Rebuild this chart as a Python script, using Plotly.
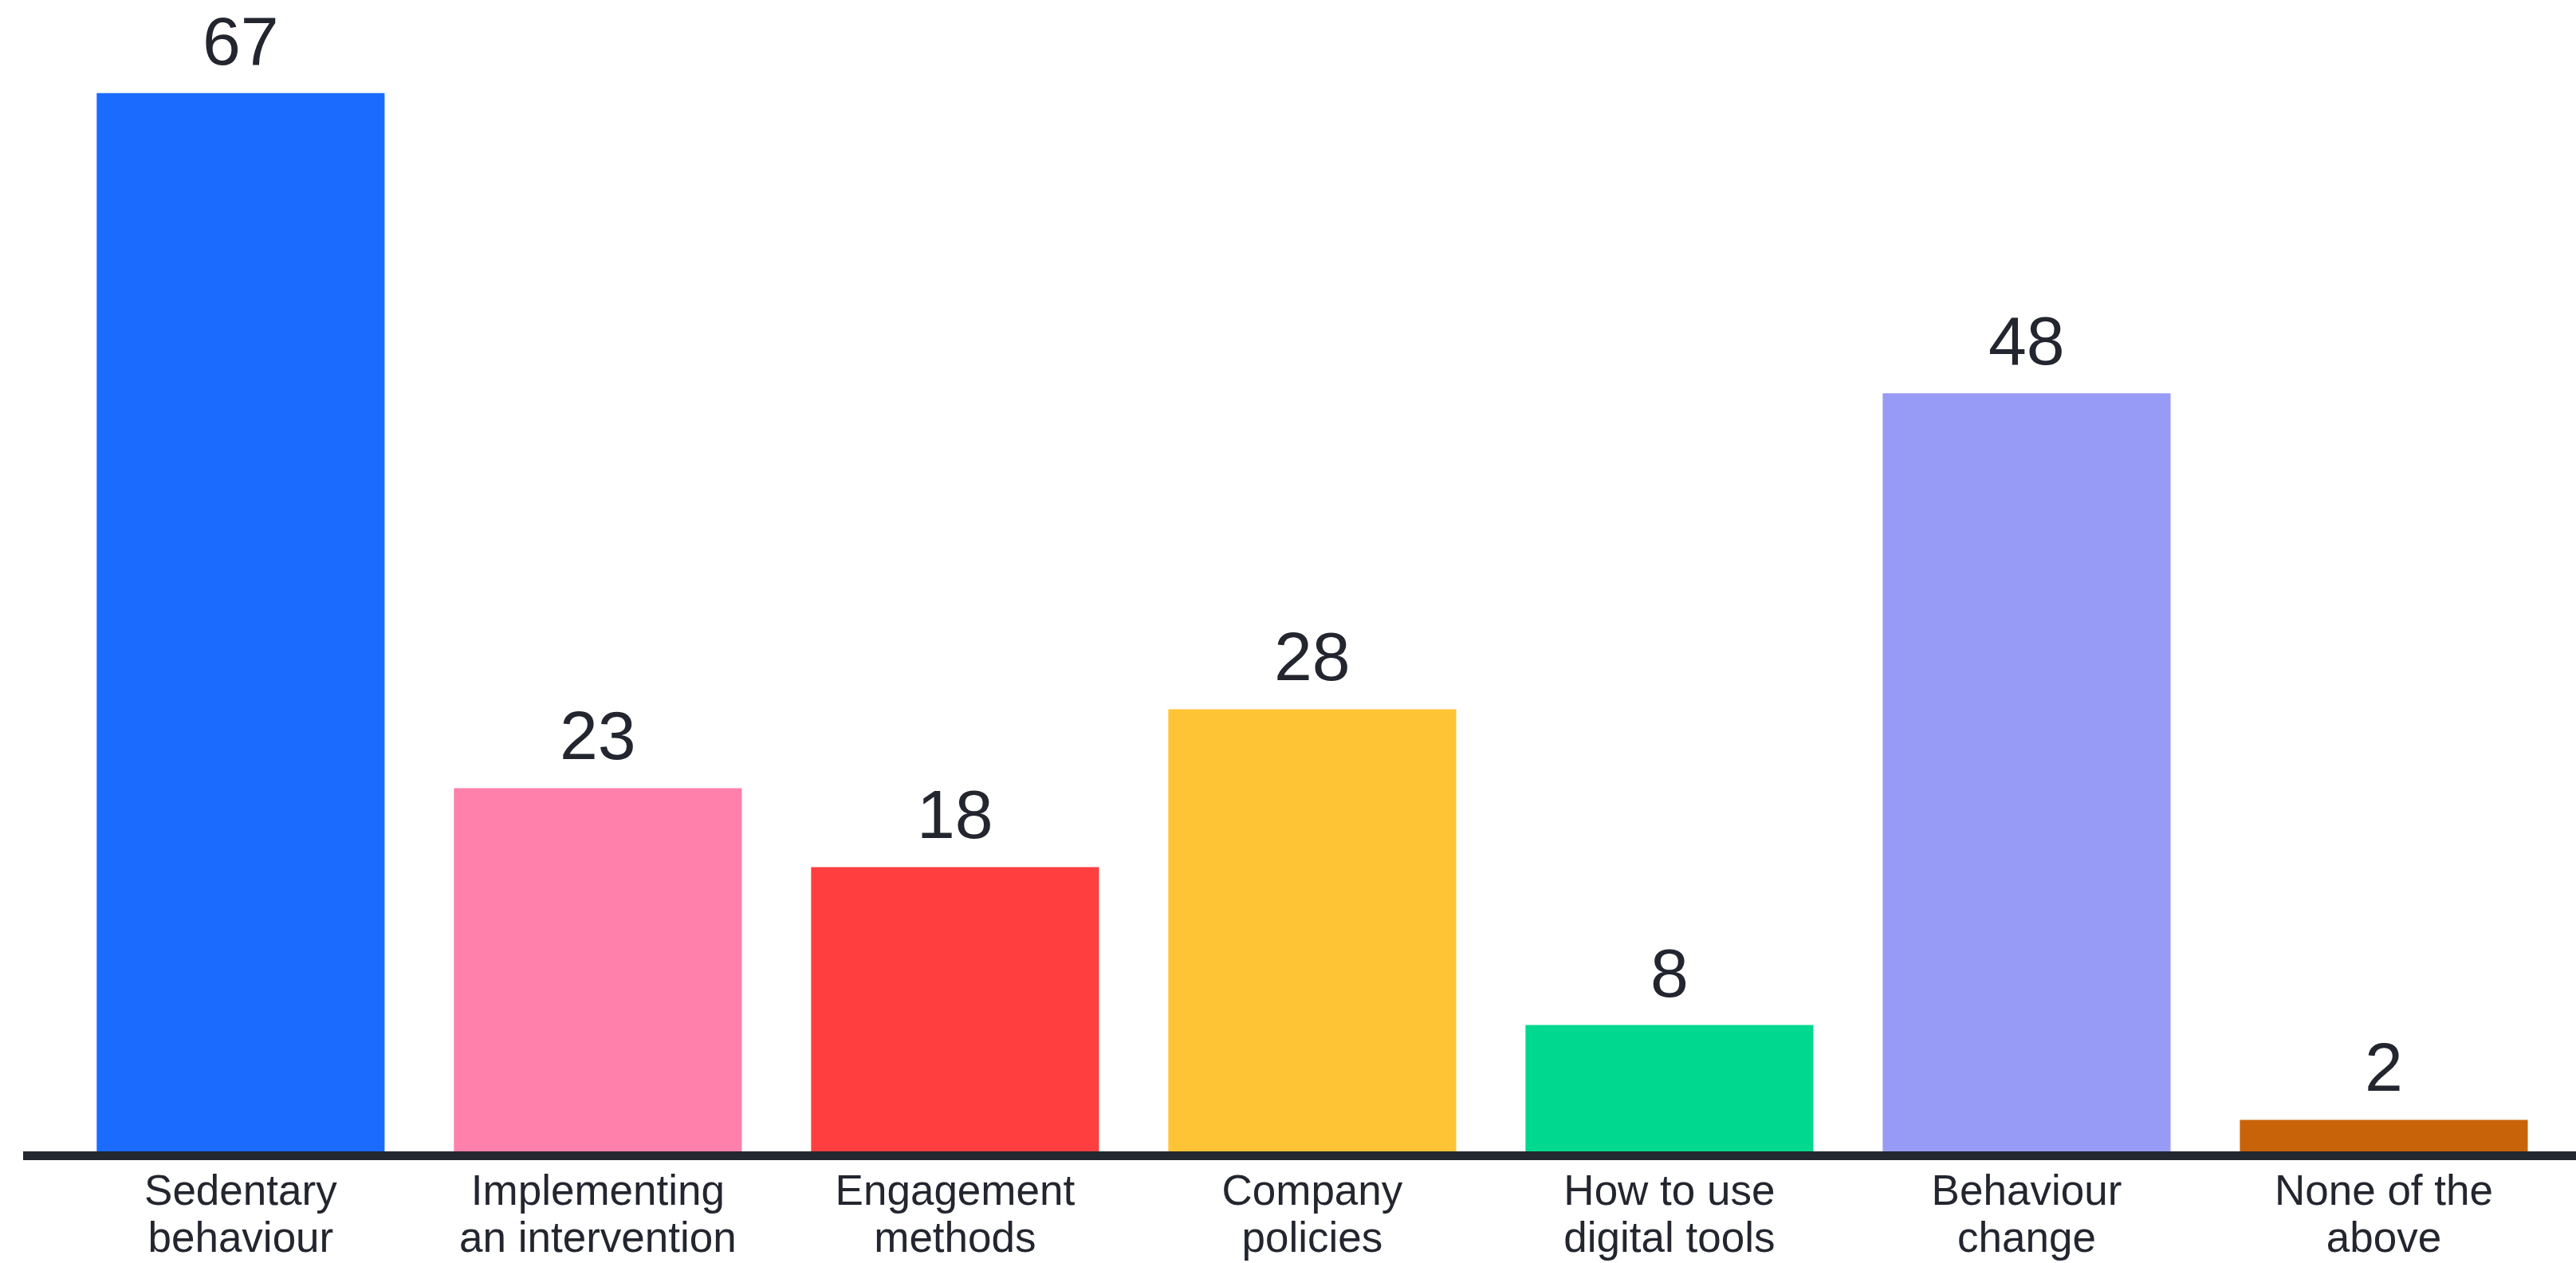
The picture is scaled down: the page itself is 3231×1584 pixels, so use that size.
import plotly.graph_objects as go

categories = ["Sedentary<br>behaviour", "Implementing<br>an intervention", "Engagement<br>methods",
              "Company<br>policies", "How to use<br>digital tools", "Behaviour<br>change", "None of the<br>above"]
values = [67, 23, 18, 28, 8, 48, 2]
colors = ["#1B6BFF", "#FF80AB", "#FF3F3F", "#FFC436", "#00D88F", "#979BF5", "#C8630A"]

TEXT = "#23262F"
positions = list(range(len(categories)))
line1 = [c.split("<br>")[0] for c in categories]
line2 = [c.split("<br>")[1] for c in categories]

fig = go.Figure()
fig.add_trace(go.Bar(
    x=positions, y=values,
    marker=dict(color=colors, line=dict(width=0)),
    width=0.806,
    hoverinfo="skip",
))
# invisible helper trace so the second label row axis is drawn
fig.add_trace(go.Scatter(x=positions, y=values, xaxis="x2", mode="none", hoverinfo="skip", showlegend=False))

for i, v in enumerate(values):
    fig.add_annotation(x=i, y=v, text=str(v), showarrow=False, yanchor="bottom",
                       yshift=16, font=dict(family="Liberation Sans", size=86, color=TEXT))

# baseline rule just under the bars (11 px thick, from plot left edge to right edge)
PLOT_H = 1584 - 140
fig.add_shape(type="line", xref="paper", yref="paper", x0=0, x1=1,
              y0=-5.5 / PLOT_H, y1=-5.5 / PLOT_H,
              line=dict(color="#23272F", width=11), layer="above")

XR = [-0.609, 6.538]
tickfont = dict(family="Liberation Sans", size=53, color=TEXT)
fig.update_layout(
    width=3231, height=1584,
    margin=dict(l=29, r=0, t=0, b=140, autoexpand=False),
    paper_bgcolor="white", plot_bgcolor="white",
    showlegend=False,
    xaxis=dict(
        range=XR, automargin=False,
        tickmode="array", tickvals=positions, ticktext=line1,
        showgrid=False, zeroline=False,
        showline=True, linecolor="rgba(0,0,0,0)", linewidth=11,
        ticks="", ticklabelstandoff=-8,
        tickfont=tickfont,
    ),
    xaxis2=dict(
        range=XR, automargin=False, overlaying="x", anchor="y", side="bottom",
        tickmode="array", tickvals=positions, ticktext=line2,
        showgrid=False, zeroline=False, showline=False,
        ticks="", ticklabelstandoff=72,
        tickfont=tickfont,
    ),
    yaxis=dict(range=[0, 72.9], visible=False, showgrid=False, zeroline=False),
)

fig.write_html("out.html")
